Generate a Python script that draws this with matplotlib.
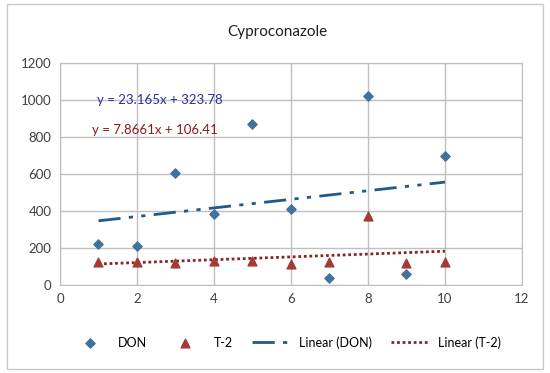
import matplotlib.pyplot as plt
import numpy as np
from matplotlib.patches import Rectangle

plt.rcParams["font.family"] = ["Lato", "DejaVu Sans"]

x_vals = [1, 2, 3, 4, 5, 6, 7, 8, 9, 10]
don = [220, 210, 605, 385, 870, 410, 35, 1020, 60, 700]
t2 = [122, 122, 120, 128, 128, 115, 125, 375, 120, 125]

x_ticks = [0, 2, 4, 6, 8, 10, 12]
y_ticks = [0, 200, 400, 600, 800, 1000, 1200]

don_eq = "y = 23.165x + 323.78"
t2_eq = "y = 7.8661x + 106.41"

don_color = "#41719C"
t2_color = "#A33A36"
don_trend_color = "#1F5A8A"
t2_trend_color = "#8B2323"

fig = plt.figure(figsize=(5.5, 3.73), dpi=100)
ax = fig.add_axes([0.109, 0.236, 0.840, 0.595])

# outer chart border
fig.patches.append(Rectangle((0.012, 0.012), 0.976, 0.976, transform=fig.transFigure,
                             fill=False, edgecolor="#C8C8C8", linewidth=1))

ax.scatter(x_vals, don, marker="D", s=22, color=don_color, label="DON", zorder=3)
ax.scatter(x_vals, t2, marker="^", s=40, color=t2_color, label="T-2", zorder=3)

# linear trendlines
xa = np.array(x_vals)
m1, b1 = np.polyfit(xa, don, 1)
m2, b2 = np.polyfit(xa, t2, 1)
xs = np.array([min(x_vals), max(x_vals)])
ax.plot(xs, m1 * xs + b1, color=don_trend_color, linewidth=2,
        dashes=(8, 3, 1.5, 3, 1.5, 3), label="Linear (DON)", zorder=2)
ax.plot(xs, m2 * xs + b2, color=t2_trend_color, linewidth=2,
        dashes=(1, 1), label="Linear (T-2)", zorder=2)

ax.text(0.96, 1000, don_eq, color="#2E2E9A", fontsize=9.5, va="center", ha="left")
ax.text(0.83, 840, t2_eq, color="#8B1A1A", fontsize=9.5, va="center", ha="left")

ax.set_xlim(0, 12)
ax.set_ylim(0, 1200)
ax.set_xticks(x_ticks)
ax.set_yticks(y_ticks)
ax.grid(True, color="#BFBFBF", linewidth=1)
ax.set_axisbelow(True)
for s in ax.spines.values():
    s.set_color("#BFBFBF")
ax.tick_params(length=0, labelsize=9.5, colors="#404040", pad=6)

fig.text(0.505, 0.915, "Cyproconazole", ha="center", va="center",
         fontsize=11, color="#202020")

fig.legend(loc="center", bbox_to_anchor=(0.52, 0.082), ncol=4, frameon=False,
           fontsize=9, handlelength=3.0, columnspacing=1.5, handletextpad=0.8)

fig.savefig("out.png", dpi=100)
